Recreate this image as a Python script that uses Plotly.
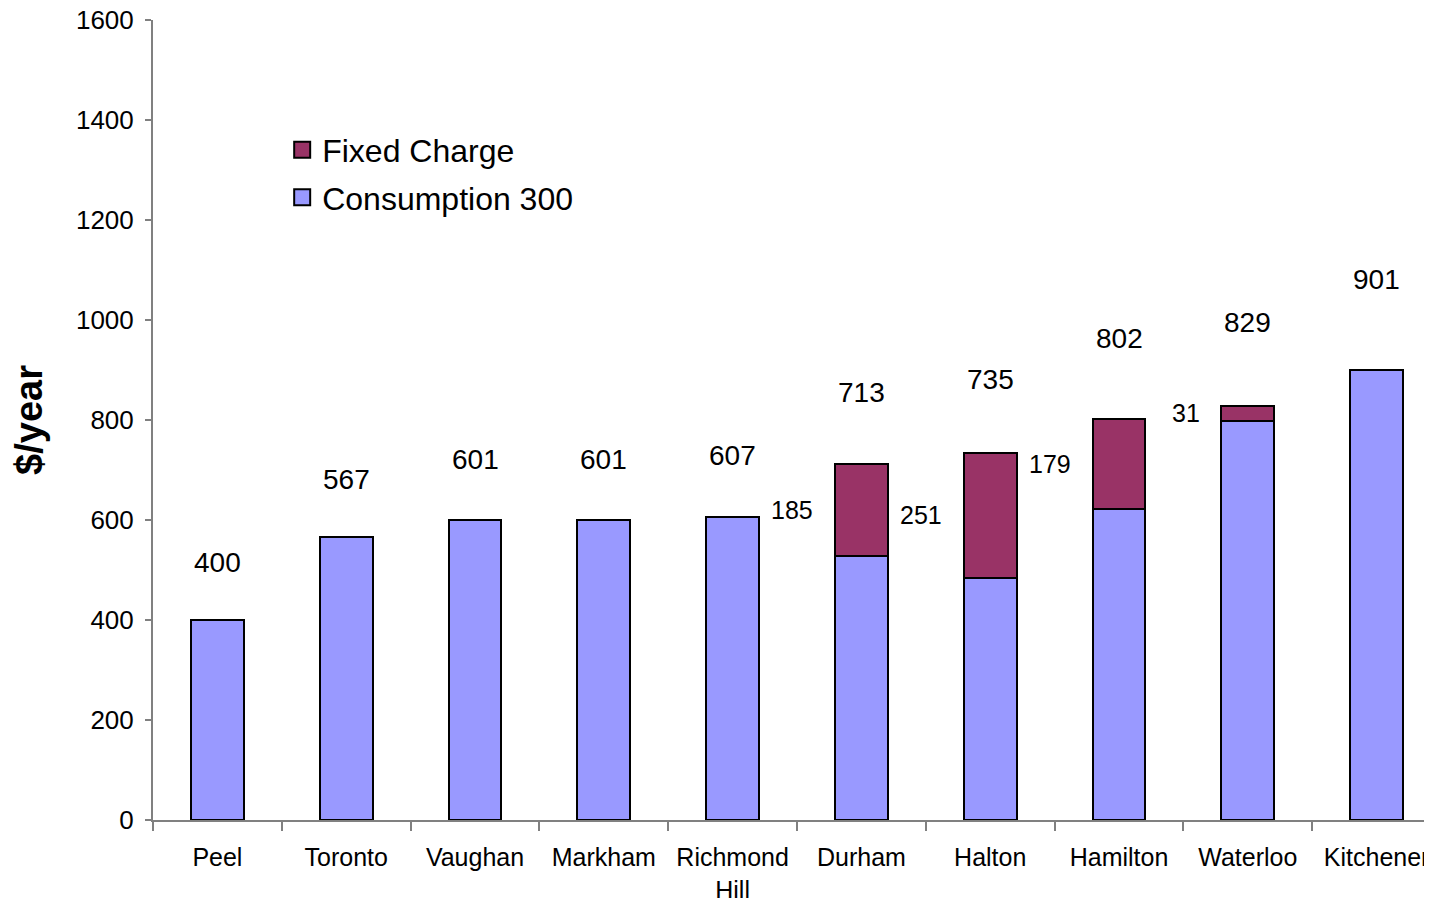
import plotly.graph_objects as go


# =====================================
# DATA
# =====================================

regions = [
    "Peel", "Toronto", "Vaughan", "Markham", "Richmond<br>Hill",
    "Durham", "Halton", "Hamilton", "Waterloo", "Kitchener"
]

consumption = [400, 567, 601, 601, 607, 528, 484, 623, 798, 901]

fixed_charge = [0, 0, 0, 0, 0, 185, 251, 179, 31, 0]

totals = [c + f for c, f in zip(consumption, fixed_charge)]

CONSUMPTION_COLOR = "#9999FF"
FIXED_COLOR = "#993366"
AXIS_GREY = "#808080"
FONT = "Liberation Sans, Arial, sans-serif"


# =====================================
# BARS
# =====================================

fig = go.Figure()

fig.add_trace(
    go.Bar(
        x=regions,
        y=consumption,
        name="Consumption 300",
        marker=dict(color=CONSUMPTION_COLOR, line=dict(color="black", width=2)),
        width=0.41,
        showlegend=False,
    )
)

fig.add_trace(
    go.Bar(
        x=regions,
        y=fixed_charge,
        name="Fixed Charge",
        marker=dict(color=FIXED_COLOR, line=dict(color="black", width=2)),
        width=0.41,
        showlegend=False,
    )
)

# legend entries with bigger square swatches
for name, color in [("Fixed Charge", FIXED_COLOR),
                    ("Consumption 300", CONSUMPTION_COLOR)]:
    fig.add_trace(
        go.Scatter(
            x=[None],
            y=[None],
            mode="markers",
            name=name,
            legendgroup=name,
            marker=dict(
                symbol="square",
                size=17,
                color=color,
                line=dict(color="black", width=2),
            ),
        )
    )


# =====================================
# LABELS
# =====================================

for region, total in zip(regions, totals):
    fig.add_annotation(
        x=region,
        y=total + max(115, 0.2 * total),
        text=str(total),
        showarrow=False,
        font=dict(size=28, color="black", family=FONT),
    )

for region, base, fixed in zip(regions, consumption, fixed_charge):
    if fixed == 0:
        continue
    fig.add_annotation(
        x=region,
        y=base + fixed / 2,
        text=str(fixed),
        showarrow=False,
        xanchor="right",
        xshift=-46,
        font=dict(size=25, color="black", family=FONT),
    )


# =====================================
# LAYOUT
# =====================================

fig.update_layout(
    barmode="stack",
    width=1424,
    height=890,
    margin=dict(l=145, r=0, t=12, b=78),
    paper_bgcolor="white",
    plot_bgcolor="white",
    font=dict(family=FONT, color="black", size=25),
    showlegend=True,
    legend=dict(
        x=0.101,
        y=0.872,
        xanchor="left",
        yanchor="top",
        traceorder="grouped",
        font=dict(size=32),
        bgcolor="rgba(0,0,0,0)",
        itemsizing="trace",
        tracegroupgap=3,
        itemwidth=30,
    ),
)

fig.update_xaxes(
    range=[-0.5, 9.43],
    automargin=False,
    showline=True,
    linecolor=AXIS_GREY,
    linewidth=2,
    ticks="outside",
    tickson="boundaries",
    ticklen=9,
    tickcolor=AXIS_GREY,
    tickwidth=1.5,
    showgrid=False,
    tickfont=dict(size=25),
    ticklabelstandoff=14,
    ticklabeloverflow="allow",
)

fig.update_yaxes(
    range=[0, 1600],
    dtick=200,
    automargin=False,
    showline=True,
    linecolor=AXIS_GREY,
    linewidth=2,
    ticks="outside",
    ticklen=6,
    tickcolor=AXIS_GREY,
    tickwidth=1.5,
    showgrid=False,
    zeroline=False,
    tickfont=dict(size=26),
    ticklabelstandoff=6,
    ticklabeloverflow="allow",
    title=dict(
        text="<b>$/year</b>",
        font=dict(size=38),
        standoff=34,
    ),
)

fig.write_html("out.html")
